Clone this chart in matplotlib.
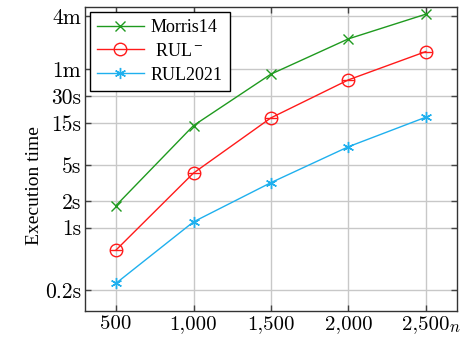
import matplotlib.pyplot as plt
import numpy as np

plt.rcParams['font.family'] = ['Liberation Serif', 'DejaVu Serif']
plt.rcParams['mathtext.fontset'] = 'stix'
plt.rcParams['axes.formatter.use_mathtext'] = True

# данные (время в секундах)
n_values = [500, 1000, 1500, 2000, 2500]
morris14 = [1.77, 14.0, 53.0, 132, 250]
rul_minus = [0.56, 4.1, 17.1, 45.7, 95]
rul2021 = [0.237, 1.16, 3.2, 8.1, 17.4]

y_ticks = [0.2, 1, 2, 5, 15, 30, 60, 240]
y_tick_labels = ['0.2s', '1s', '2s', '5s', '15s', '30s', '1m', '4m']
x_tick_labels = ['500', '1,000', '1,500', '2,000', '2,500']

green = '#1f9a1f'
red = '#ff1a1a'
cyan = '#1fb0ee'

fig = plt.figure(figsize=(4.7, 3.39), dpi=100)
ax = fig.add_axes([0.181, 0.083, 0.791, 0.896])

ax.plot(n_values, morris14, color=green, lw=1, marker='x', ms=7, mew=1,
        label='Morris14')
ax.plot(n_values, rul_minus, color=red, lw=1, marker='o', ms=9, mfc='none',
        mew=1, label=' RUL$^-$')
ax.plot(n_values, rul_minus, color=red, lw=0, marker='_', ms=9, mew=1)
ax.plot(n_values, rul2021, color=cyan, lw=1, marker=(6, 2, 0), ms=8, mew=1,
        label='RUL2021')

ax.set_yscale('log')
ax.set_xlim(300, 2700)
ax.set_ylim(0.116, 300)
ax.set_xticks(n_values)
ax.set_xticklabels(x_tick_labels, fontfamily='cmr10', fontsize=15)
ax.set_yticks(y_ticks)
ax.set_yticklabels(y_tick_labels, fontfamily='cmr10', fontsize=15.5)
ax.minorticks_off()

ax.grid(True, color='#c8c8c8', lw=1)
ax.set_axisbelow(True)
ax.tick_params(direction='in', length=4, width=1, colors='#444444',
               labelcolor='black', pad=3, top=True, right=True)
for s in ax.spines.values():
    s.set_color('#333333')
    s.set_linewidth(1)

ax.set_ylabel('Execution time', fontsize=14)
ax.yaxis.set_label_coords(-0.113, 0.414)
ax.text(0.978, -0.055, '$n$', transform=ax.transAxes, fontsize=12,
        ha='left', va='center', math_fontfamily='cm')

leg = ax.legend(loc='upper left', fontsize=13, handlelength=2.6,
                fancybox=False, edgecolor='black', framealpha=1,
                borderpad=0.4, labelspacing=0.38, handletextpad=0.4,
                borderaxespad=0.25)
leg.get_frame().set_linewidth(1)

plt.savefig('out.png', dpi=100)
